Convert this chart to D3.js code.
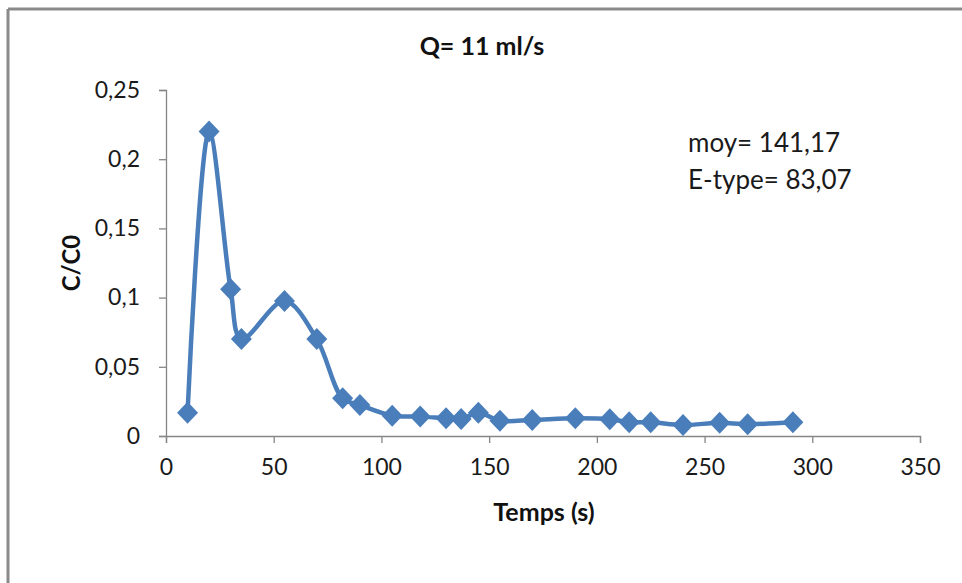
<!DOCTYPE html>
<html>
<head>
<meta charset="utf-8">
<script src="https://cdn.jsdelivr.net/npm/d3@7"></script>
<style>
  html, body { margin: 0; padding: 0; background: #fff; }
  svg { display: block; font-family: Lato, "Open Sans", sans-serif; }
</style>
</head>
<body>
<svg id="chart" width="962" height="583"></svg>
<script>
const times = [10, 20, 30, 35, 55, 70, 82, 90, 105, 118, 130, 137, 145, 155, 170, 190, 206, 215, 225, 240, 257, 270, 291];
const ratios = [0.0168, 0.22, 0.106, 0.070, 0.0975, 0.070, 0.0272, 0.0224, 0.0147, 0.0140, 0.0128, 0.0123, 0.0168, 0.0111, 0.0116, 0.0128, 0.0121, 0.0099, 0.0099, 0.0079, 0.0096, 0.0085, 0.0099];
const xTicks = [0, 50, 100, 150, 200, 250, 300, 350];
const yTicks = [0, 0.05, 0.1, 0.15, 0.2, 0.25];
const titleText = "Q= 11 ml/s";
const xTitle = "Temps (s)";
const yTitle = "C/C0";
const notes = ["moy= 141,17", "E-type= 83,07"];

const svg = d3.select("#chart");
const blue = "#4a7ebb";
const axisGray = "#868686";

// outer frame (top and left visible)
svg.append("line").attr("x1", 8).attr("x2", 962).attr("y1", 9).attr("y2", 9)
  .attr("stroke", "#8a8a8a").attr("stroke-width", 3);
svg.append("line").attr("x1", 8).attr("x2", 8).attr("y1", 9).attr("y2", 583)
  .attr("stroke", "#8a8a8a").attr("stroke-width", 3);

const x = d3.scaleLinear().domain([0, 350]).range([166, 920]);
const y = d3.scaleLinear().domain([0, 0.25]).range([436, 90]);
const fmt = d => d3.format("")(+d.toFixed(2)).replace(".", ",");

const xAxis = svg.append("g").attr("transform", `translate(0,${y(0)})`)
  .call(d3.axisBottom(x).tickValues(xTicks).tickSize(7).tickPadding(12).tickFormat(d => String(d)));
const yAxis = svg.append("g").attr("transform", `translate(${x(0)},0)`)
  .call(d3.axisLeft(y).tickValues(yTicks).tickSize(7).tickPadding(19).tickFormat(fmt));
[xAxis, yAxis].forEach(g => {
  g.select(".domain").attr("stroke", axisGray).attr("stroke-width", 1.3);
  g.selectAll(".tick line").attr("stroke", axisGray).attr("stroke-width", 1.3);
  g.selectAll(".tick text").attr("fill", "#1a1a1a").attr("font-size", 23)
    .attr("font-family", "Lato, sans-serif");
});
xAxis.selectAll(".tick text").attr("dy", "0.85em");

const data = times.map((t, i) => ({ t, r: ratios[i] }));
const line = d3.line().x(d => x(d.t)).y(d => y(d.r)).curve(d3.curveCatmullRom.alpha(0.5));
svg.append("path").datum(data).attr("d", line)
  .attr("fill", "none").attr("stroke", blue).attr("stroke-width", 4.5)
  .attr("stroke-linejoin", "round");

const diamond = "M0,-11L10.5,0L0,11L-10.5,0Z";
svg.append("g").selectAll("path").data(data).join("path")
  .attr("d", diamond)
  .attr("transform", d => `translate(${x(d.t)},${y(d.r)})`)
  .attr("fill", blue);

svg.append("text").attr("x", 482).attr("y", 55).attr("text-anchor", "middle")
  .attr("font-weight", "bold").attr("font-size", 25).attr("fill", "#111").text(titleText);
svg.append("text").attr("x", 544).attr("y", 521).attr("text-anchor", "middle")
  .attr("font-weight", "bold").attr("font-size", 25).attr("fill", "#111").text(xTitle);
svg.append("text").attr("transform", "translate(80,263) rotate(-90)").attr("text-anchor", "middle")
  .attr("font-weight", "bold").attr("font-size", 24).attr("fill", "#111").text(yTitle);

svg.append("g").selectAll("text").data(notes).join("text")
  .attr("x", 688).attr("y", (d, i) => 152 + i * 37)
  .attr("font-size", 26).attr("fill", "#1a1a1a").text(d => d);
</script>
</body>
</html>
